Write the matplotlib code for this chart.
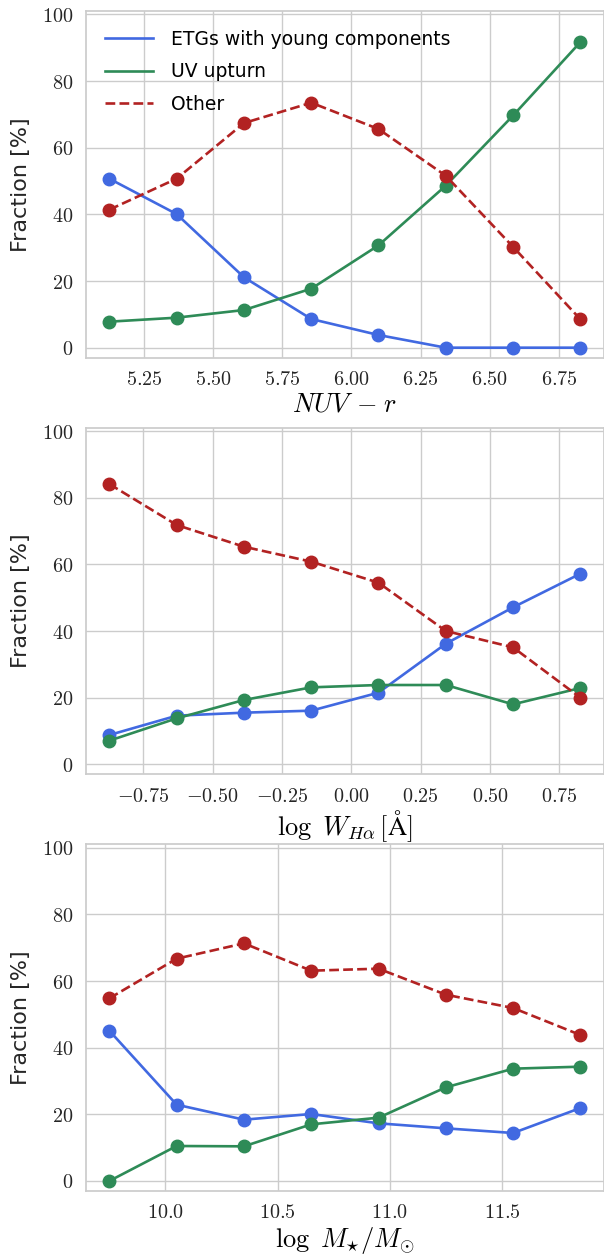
import matplotlib
matplotlib.use("Agg")
import matplotlib.pyplot as plt
from matplotlib.ticker import FuncFormatter

# --- data ---
nuv_r = [5.125, 5.368, 5.612, 5.855, 6.098, 6.341, 6.585, 6.828]
nuv_young = [50.7, 40.1, 21.1, 8.6, 3.8, 0.0, 0.0, 0.0]
nuv_uvup = [7.8, 9.0, 11.3, 17.7, 30.7, 48.6, 69.7, 91.7]
nuv_other = [41.4, 50.7, 67.4, 73.5, 65.6, 51.6, 30.2, 8.5]

log_wha = [-0.872, -0.629, -0.387, -0.144, 0.098, 0.341, 0.583, 0.826]
wha_young = [8.8, 14.6, 15.5, 16.1, 21.5, 36.2, 47.1, 57.2]
wha_uvup = [7.1, 13.8, 19.3, 23.1, 23.8, 23.8, 18.0, 22.9]
wha_other = [84.1, 71.8, 65.3, 60.8, 54.5, 40.0, 35.1, 20.0]

log_mass = [9.75, 10.05, 10.35, 10.65, 10.95, 11.25, 11.55, 11.85]
mass_young = [45.1, 22.9, 18.4, 20.1, 17.3, 15.8, 14.4, 21.9]
mass_uvup = [0.0, 10.5, 10.4, 17.0, 19.0, 28.1, 33.7, 34.3]
mass_other = [54.8, 66.7, 71.3, 63.1, 63.7, 55.9, 51.9, 43.8]

labels = ["ETGs with young components", "UV upturn", "Other"]
colors = ["royalblue", "seagreen", "firebrick"]
styles = ["-", "-", "--"]
yticks = [0, 20, 40, 60, 80, 100]

panels = [
    (nuv_r, [nuv_young, nuv_uvup, nuv_other], r"$NUV\;\,{-}\;r$", 2),
    (log_wha, [wha_young, wha_uvup, wha_other], r"$\log\ W_{H\alpha}\,[\mathrm{\AA}]$", 2),
    (log_mass, [mass_young, mass_uvup, mass_other], r"$\log\ M_{\star}/M_{\odot}$", 1),
]

plt.rcParams["mathtext.fontset"] = "cm"
plt.rcParams["font.family"] = ["DejaVu Sans"]

fig = plt.figure(figsize=(6.04, 12.55), dpi=100)

# axes boxes in figure fractions (left, bottom, width, height)
boxes = [
    (0.142, 0.715, 0.858, 0.2762),
    (0.142, 0.383, 0.858, 0.2762),
    (0.142, 0.051, 0.858, 0.2762),
]

for i, (x, series, xlabel, ndec) in enumerate(panels):
    ax = fig.add_axes(boxes[i])
    for ys, lab, c, ls in zip(series, labels, colors, styles):
        ax.plot(x, ys, color=c, ls=ls, lw=1.9, label=lab)
        ax.plot(x, ys, color=c, ls="none", marker="o", ms=9)

    ax.set_ylim(-3, 101)
    ax.set_yticks(yticks)
    ax.yaxis.set_major_formatter(FuncFormatter(lambda v, p: "$%d$" % v))
    ax.xaxis.set_major_formatter(FuncFormatter(lambda v, p, n=ndec: "$%.*f$" % (n, v)))

    ax.grid(True, color="#cccccc", lw=1.0)
    ax.set_axisbelow(True)
    for s in ax.spines.values():
        s.set_color("#cccccc")
        s.set_linewidth(1.25)
    ax.tick_params(length=0, labelsize=14.5, labelcolor="#262626", pad=9)

    ax.set_xlabel(xlabel, fontsize=19, labelpad=2)
    ax.set_ylabel("Fraction [%]", fontsize=16, color="#262626", labelpad=8)

    if i == 0:
        ax.legend(loc="upper left", frameon=False, fontsize=13.5,
                  handlelength=2.56, handletextpad=1.0, labelspacing=0.72,
                  borderaxespad=0.6)

fig.savefig("out.png", dpi=100)
